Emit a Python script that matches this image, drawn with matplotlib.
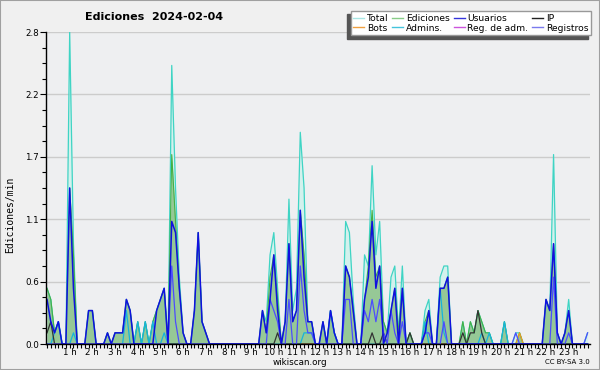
import numpy as np
import matplotlib
matplotlib.use('Agg')
import matplotlib.pyplot as plt
from matplotlib.lines import Line2D
from matplotlib.patches import Rectangle

# ediciones/min en intervalos de 10 min (6 por hora, 144 en el dia)
total = [
    .5, .4, .1, .2, 0, 0, 2.8, .9, 0, 0, 0, .3,      # 0-2 h
    .3, 0, 0, 0, .1, 0, .1, .1, .1, .4, .3, 0,       # 2-4 h
    .2, 0, .2, 0, .2, .3, .4, .5, 0, 2.5, 1.4, .6,   # 4-6 h
    .1, 0, 0, .3, 1.0, .2, .1, 0, 0, 0, 0, 0,        # 6-8 h
    0, 0, 0, 0, 0, 0, 0, 0, 0, .3, .2, .8,           # 8-10 h
    1.0, .5, 0, .2, 1.3, .3, .5, 1.9, 1.4, .2, .2, 0,  # 10-12 h
    0, .2, 0, .3, .1, 0, 0, 1.1, 1.0, .4, 0, 0,      # 12-14 h
    .8, .7, 1.6, .8, 1.1, .2, .1, .6, .7, .1, .7, 0,  # 14-16 h
    .1, 0, 0, 0, .3, .4, 0, 0, .6, .7, .7, 0,        # 16-18 h
    0, 0, .2, 0, .2, .1, .3, .2, .1, .1, 0, 0,       # 18-20 h
    0, .2, 0, 0, .1, .1, 0, 0, 0, 0, 0, 0,           # 20-22 h
    .4, .3, 1.7, .1, 0, .1, .4, 0, 0, 0, 0, .1,      # 22-24 h
]
ediciones = [
    .5, .4, .1, .2, 0, 0, 1.4, .8, 0, 0, 0, .3,
    .3, 0, 0, 0, .1, 0, .1, .1, .1, .4, .3, 0,
    .2, 0, .2, 0, .2, .3, .4, .5, 0, 1.7, 1.1, .5,
    .1, 0, 0, .3, 1.0, .2, .1, 0, 0, 0, 0, 0,
    0, 0, 0, 0, 0, 0, 0, 0, 0, .3, .1, .6,
    .8, .4, 0, .2, .9, .2, .3, 1.2, .8, .2, .2, 0,
    0, .2, 0, .3, .1, 0, 0, .7, .6, .3, 0, 0,
    .4, .7, 1.2, .6, .7, .2, .1, .3, .5, .1, .5, 0,
    .1, 0, 0, 0, .2, .3, 0, 0, .5, .5, .6, 0,
    0, 0, .2, 0, .2, .1, .3, .2, .1, .1, 0, 0,
    0, .2, 0, 0, 0, .1, 0, 0, 0, 0, 0, 0,
    .4, .3, .9, .1, 0, .1, .3, 0, 0, 0, 0, 0,
]
usuarios = [
    .4, .2, .1, .2, 0, 0, 1.4, .5, 0, 0, 0, .3,
    .3, 0, 0, 0, .1, 0, .1, .1, .1, .4, .3, 0,
    0, 0, 0, 0, 0, .3, .4, .5, 0, 1.1, 1.0, .5,
    .1, 0, 0, .3, 1.0, .2, .1, 0, 0, 0, 0, 0,
    0, 0, 0, 0, 0, 0, 0, 0, 0, .3, .1, .4,
    .8, .3, 0, .2, .9, .2, .3, 1.2, .6, .2, .2, 0,
    0, .2, 0, .3, .1, 0, 0, .7, .6, .3, 0, 0,
    .4, .6, 1.1, .5, .7, 0, .1, .3, .5, 0, .5, 0,
    0, 0, 0, 0, .1, .3, 0, 0, .5, .5, .6, 0,
    0, 0, 0, 0, 0, 0, 0, 0, 0, 0, 0, 0,
    0, 0, 0, 0, 0, 0, 0, 0, 0, 0, 0, 0,
    .4, .3, .9, .1, 0, .1, .3, 0, 0, 0, 0, 0,
]
registros = [
    0, 0, 0, 0, 0, 0, 0, 0, 0, 0, 0, 0,
    0, 0, 0, 0, 0, 0, 0, 0, 0, 0, 0, 0,
    0, 0, 0, 0, 0, 0, 0, 0, 0, .7, .2, 0,
    0, 0, 0, 0, 0, 0, 0, 0, 0, 0, 0, 0,
    0, 0, 0, 0, 0, 0, 0, 0, 0, 0, 0, .4,
    .3, .2, 0, 0, .4, 0, 0, .7, .3, .1, .1, 0,
    0, 0, 0, 0, 0, 0, 0, .4, .4, 0, 0, 0,
    .3, .2, .4, .2, .4, .1, 0, .3, .1, 0, .2, 0,
    0, 0, 0, 0, .1, .1, 0, 0, 0, .2, 0, 0,
    0, 0, 0, 0, 0, 0, 0, 0, 0, 0, 0, 0,
    0, 0, 0, 0, .1, 0, 0, 0, 0, 0, 0, 0,
    0, 0, .6, 0, 0, 0, .1, 0, 0, 0, 0, .1,
]
ip = [
    .1, .2, 0, 0, 0, 0, 0, 0, 0, 0, 0, 0,
    0, 0, 0, 0, 0, 0, 0, 0, 0, 0, 0, 0,
    0, 0, 0, 0, 0, 0, 0, 0, 0, 0, 0, 0,
    0, 0, 0, 0, 0, 0, 0, 0, 0, 0, 0, 0,
    0, 0, 0, 0, 0, 0, 0, 0, 0, 0, 0, 0,
    0, .1, 0, 0, 0, 0, 0, 0, 0, 0, 0, 0,
    0, 0, 0, 0, 0, 0, 0, 0, 0, 0, 0, 0,
    0, 0, .1, 0, 0, .1, 0, 0, 0, 0, 0, 0,
    .1, 0, 0, 0, 0, 0, 0, 0, 0, 0, 0, 0,
    0, 0, .1, 0, .1, .1, .3, .1, 0, 0, 0, 0,
    0, 0, 0, 0, 0, 0, 0, 0, 0, 0, 0, 0,
    0, 0, 0, 0, 0, 0, 0, 0, 0, 0, 0, 0,
]
admins = [
    0, 0, .1, .2, 0, 0, 0, .1, 0, 0, 0, 0,
    0, 0, 0, 0, 0, 0, 0, 0, 0, .3, 0, 0,
    .2, 0, .2, 0, .2, 0, 0, .1, 0, 0, 0, 0,
    0, 0, 0, 0, 0, 0, 0, 0, 0, 0, 0, 0,
    0, 0, 0, 0, 0, 0, 0, 0, 0, 0, 0, 0,
    0, 0, 0, 0, 0, 0, 0, 0, .1, .1, .1, 0,
    0, 0, 0, .3, .1, 0, 0, 0, 0, 0, 0, 0,
    0, 0, 0, 0, 0, 0, 0, 0, 0, 0, 0, 0,
    0, 0, 0, 0, .2, 0, 0, 0, .5, .1, 0, 0,
    0, 0, 0, 0, 0, 0, 0, .1, 0, .1, 0, 0,
    0, .2, 0, 0, 0, 0, 0, 0, 0, 0, 0, 0,
    0, 0, 0, 0, 0, 0, 0, 0, 0, 0, 0, 0,
]
bots = [
    0, 0, 0, 0, 0, 0, 0, 0, 0, 0, 0, 0,
    0, 0, 0, 0, 0, 0, 0, 0, 0, 0, 0, 0,
    0, 0, 0, 0, 0, 0, 0, 0, 0, 0, 0, 0,
    0, 0, 0, 0, 0, 0, 0, 0, 0, 0, 0, 0,
    0, 0, 0, 0, 0, 0, 0, 0, 0, 0, 0, 0,
    0, 0, 0, 0, 0, 0, 0, 0, 0, 0, 0, 0,
    0, 0, 0, 0, 0, 0, 0, 0, 0, 0, 0, 0,
    0, 0, 0, 0, 0, 0, 0, 0, 0, 0, 0, 0,
    0, 0, 0, 0, 0, 0, 0, 0, 0, 0, 0, 0,
    0, 0, 0, 0, 0, 0, 0, 0, 0, 0, 0, 0,
    0, 0, 0, 0, 0, .1, 0, 0, 0, 0, 0, 0,
    0, 0, 0, 0, 0, 0, 0, 0, 0, 0, 0, 0,
]
reg_adm = [0] * 144

ytick_vals = [0, 0.56, 1.12, 1.68, 2.24, 2.8]
ytick_labels = ['0.0', '0.6', '1.1', '1.7', '2.2', '2.8']
hour_ticks = list(range(1, 24))
hour_labels = ['%d h' % h for h in hour_ticks]

legend_labels = ['Total', 'Bots', 'Ediciones', 'Admins.',
                 'Usuarios', 'Reg. de adm.', 'IP', 'Registros']
legend_colors = ['#a8e6e4', '#f0a040', '#88cc88', '#44c4dc',
                 '#3434dc', '#cc55dd', '#222222', '#7a7aee']

x = np.arange(len(total)) / 6.0

fig = plt.figure(figsize=(6, 3.7), dpi=100, facecolor='#f0f0f0')
ax = fig.add_axes([46 / 600, 26 / 370, 544 / 600, 312 / 370])
ax.set_facecolor('#eeeff1')

ax.fill_between(x, 0, total, color='#d3f1ed', lw=0, zorder=1)
ax.fill_between(x, 0, ediciones, color='#96c896', lw=0, zorder=2)
ax.plot(x, total, color='#3fd4c4', lw=0.9, zorder=3)
ax.plot(x, ediciones, color='#44b044', lw=0.8, zorder=3)
ax.plot(x, reg_adm, color='#cc44cc', lw=0.8, zorder=4)
ax.plot(x, bots, color='#ee9922', lw=0.9, zorder=4)
ax.plot(x, admins, color='#16b4dc', lw=0.9, zorder=4)
ax.plot(x, ip, color='#333333', lw=0.9, zorder=4)
ax.plot(x, registros, color='#4c4cff', lw=0.9, zorder=5)
ax.plot(x, usuarios, color='#1010e0', lw=1.1, zorder=6)

ax.set_xlim(-0.044, 23.94)
ax.set_ylim(0, 2.8)

ax.set_yticks(ytick_vals)
ax.set_yticklabels(ytick_labels)
ax.set_yticks(np.arange(0, 2.81, 0.14), minor=True)
ax.set_xticks(hour_ticks)
ax.set_xticklabels(hour_labels)
ax.set_xticks(x, minor=True)

ax.tick_params(axis='both', which='both', direction='out', color='black',
               labelsize=6.3, width=0.8)
ax.tick_params(axis='y', which='major', length=4, pad=1)
ax.tick_params(axis='y', which='minor', length=3)
ax.tick_params(axis='x', which='both', length=3, pad=0)

ax.yaxis.grid(True, color='#cccccc', lw=1)
ax.set_axisbelow(True)
for s in ['top', 'right']:
    ax.spines[s].set_visible(False)
for s in ['left', 'bottom']:
    ax.spines[s].set_color('black')
    ax.spines[s].set_linewidth(1)
    ax.spines[s].set_zorder(10)

fig.text(85 / 600, 1 - 17 / 370, 'Ediciones  2024-02-04', fontsize=8,
         fontweight='bold', ha='left', va='center')
fig.text(10 / 600, 1 - 215 / 370, 'Ediciones/min', rotation=90,
         family='DejaVu Sans Mono', fontsize=7, ha='center', va='center')
fig.text(300 / 600, 1 - 362.5 / 370, 'wikiscan.org', fontsize=6.3,
         ha='center', va='center')
fig.text(590 / 600, 1 - 362.5 / 370, 'CC BY-SA 3.0', fontsize=5,
         ha='right', va='center')

handles = [Line2D([], [], color=c, lw=1) for c in legend_colors]
fig.legend(handles, legend_labels, ncol=4, loc='upper right',
           bbox_to_anchor=(591 / 600, 1 - 11 / 370), fontsize=6.6,
           frameon=True, fancybox=False, edgecolor='#999999',
           facecolor='white', framealpha=1, handlelength=1.2,
           handletextpad=0.3, columnspacing=0.4, labelspacing=0.1,
           borderpad=0.3, borderaxespad=0,
           shadow={'ox': -2.5, 'oy': -2.5, 'color': '#555555', 'alpha': 1})

fig.patches.append(Rectangle((0, 0), 1, 1, transform=fig.transFigure,
                             fill=False, edgecolor='#a0a0a0', lw=1.5))

plt.savefig('out.png', dpi=100, facecolor=fig.get_facecolor())
